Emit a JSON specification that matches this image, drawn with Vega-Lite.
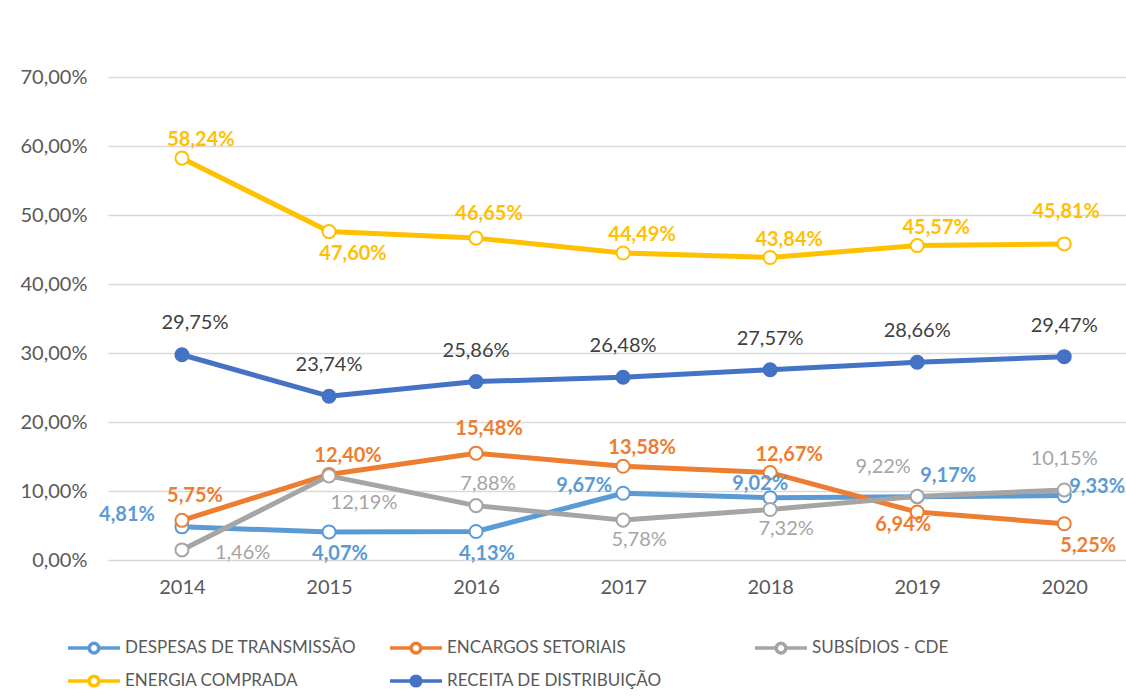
{
  "$schema": "https://vega.github.io/schema/vega-lite/v6.json",
  "width": 1018,
  "height": 552,
  "autosize": {"type": "none"},
  "padding": {"left": 108, "top": 8, "right": 0, "bottom": 139},
  "background": "white",
  "config": {
    "view": {"stroke": null},
    "font": "Lato",
    "text": {"font": "Lato", "fontSize": 20, "baseline": "middle", "align": "center"}
  },
  "resolve": {"scale": {"stroke": "independent"}},
  "data": {
    "values": [
      {"series": "DESPESAS DE TRANSMISSÃO", "year": 2014, "value": 0.0481},
      {"series": "DESPESAS DE TRANSMISSÃO", "year": 2015, "value": 0.0407},
      {"series": "DESPESAS DE TRANSMISSÃO", "year": 2016, "value": 0.0413},
      {"series": "DESPESAS DE TRANSMISSÃO", "year": 2017, "value": 0.0967},
      {"series": "DESPESAS DE TRANSMISSÃO", "year": 2018, "value": 0.0902},
      {"series": "DESPESAS DE TRANSMISSÃO", "year": 2019, "value": 0.0917},
      {"series": "DESPESAS DE TRANSMISSÃO", "year": 2020, "value": 0.0933},
      {"series": "ENCARGOS SETORIAIS", "year": 2014, "value": 0.0575},
      {"series": "ENCARGOS SETORIAIS", "year": 2015, "value": 0.1240},
      {"series": "ENCARGOS SETORIAIS", "year": 2016, "value": 0.1548},
      {"series": "ENCARGOS SETORIAIS", "year": 2017, "value": 0.1358},
      {"series": "ENCARGOS SETORIAIS", "year": 2018, "value": 0.1267},
      {"series": "ENCARGOS SETORIAIS", "year": 2019, "value": 0.0694},
      {"series": "ENCARGOS SETORIAIS", "year": 2020, "value": 0.0525},
      {"series": "SUBSÍDIOS - CDE", "year": 2014, "value": 0.0146},
      {"series": "SUBSÍDIOS - CDE", "year": 2015, "value": 0.1219},
      {"series": "SUBSÍDIOS - CDE", "year": 2016, "value": 0.0788},
      {"series": "SUBSÍDIOS - CDE", "year": 2017, "value": 0.0578},
      {"series": "SUBSÍDIOS - CDE", "year": 2018, "value": 0.0732},
      {"series": "SUBSÍDIOS - CDE", "year": 2019, "value": 0.0922},
      {"series": "SUBSÍDIOS - CDE", "year": 2020, "value": 0.1015},
      {"series": "ENERGIA COMPRADA", "year": 2014, "value": 0.5824},
      {"series": "ENERGIA COMPRADA", "year": 2015, "value": 0.4760},
      {"series": "ENERGIA COMPRADA", "year": 2016, "value": 0.4665},
      {"series": "ENERGIA COMPRADA", "year": 2017, "value": 0.4449},
      {"series": "ENERGIA COMPRADA", "year": 2018, "value": 0.4384},
      {"series": "ENERGIA COMPRADA", "year": 2019, "value": 0.4557},
      {"series": "ENERGIA COMPRADA", "year": 2020, "value": 0.4581},
      {"series": "RECEITA DE DISTRIBUIÇÃO", "year": 2014, "value": 0.2975},
      {"series": "RECEITA DE DISTRIBUIÇÃO", "year": 2015, "value": 0.2374},
      {"series": "RECEITA DE DISTRIBUIÇÃO", "year": 2016, "value": 0.2586},
      {"series": "RECEITA DE DISTRIBUIÇÃO", "year": 2017, "value": 0.2648},
      {"series": "RECEITA DE DISTRIBUIÇÃO", "year": 2018, "value": 0.2757},
      {"series": "RECEITA DE DISTRIBUIÇÃO", "year": 2019, "value": 0.2866},
      {"series": "RECEITA DE DISTRIBUIÇÃO", "year": 2020, "value": 0.2947}
    ]
  },
  "transform": [
    {"calculate": "replace(format(datum.value, '.2%'), '.', ',')", "as": "lab"},
    {"calculate": "substring(datum.series, 0, 3) + datum.year", "as": "k"}
  ],
  "encoding": {
    "x": {
      "field": "year", "type": "quantitative",
      "scale": {"domain": [2013.497, 2020.42], "nice": false, "zero": false},
      "axis": {
        "values": [2014, 2015, 2016, 2017, 2018, 2019, 2020], "format": "d", "title": null,
        "grid": false, "domain": false, "ticks": false,
        "labelFontSize": 20, "labelColor": "#595959", "labelFont": "Lato", "labelPadding": 17
      }
    },
    "y": {
      "field": "value", "type": "quantitative",
      "scale": {"domain": [0, 0.8], "nice": false},
      "axis": {
        "values": [0, 0.1, 0.2, 0.3, 0.4, 0.5, 0.6, 0.7],
        "labelExpr": "replace(format(datum.value, '.2%'), '.', ',')",
        "title": null, "grid": true, "gridColor": "#D9D9D9", "gridWidth": 1.3,
        "domain": false, "ticks": false,
        "labelFontSize": 20, "labelColor": "#595959", "labelFont": "Lato", "labelPadding": 21
      }
    }
  },
  "layer": [
    {
      "mark": {"type": "line", "strokeWidth": 5, "strokeJoin": "round", "strokeCap": "round"},
      "encoding": {
        "stroke": {
          "field": "series", "type": "nominal",
          "scale": {
            "domain": ["DESPESAS DE TRANSMISSÃO", "ENCARGOS SETORIAIS", "SUBSÍDIOS - CDE", "ENERGIA COMPRADA", "RECEITA DE DISTRIBUIÇÃO"],
            "range": ["#5B9BD5", "#ED7D31", "#A5A5A5", "#FFC000", "#4472C4"]
          },
          "legend": {
            "title": null, "orient": "none", "legendX": -40, "legendY": 630,
            "direction": "horizontal", "columns": 3, "columnPadding": 26, "rowPadding": 9,
            "symbolType": "M-3.25,0H-0.6M0.6,0H3.25M-0.6,0A0.6,0.6,0,1,0,0.6,0A0.6,0.6,0,1,0,-0.6,0Z",
            "symbolSize": 256, "symbolStrokeWidth": 3.5, "symbolOffset": 16, "labelOffset": 21,
            "symbolFillColor": "white",
            "labelFontSize": 17, "labelColor": "#595959", "labelFont": "Lato", "labelLimit": 500,
            "labelExpr": "datum.label === 'RECEITA DE DISTRIBUIÇÃO' ? datum.label + '\u2800\u2800\u2800\u2800\u2800' : datum.label",
            "encode": {
              "symbols": {
                "update": {
                  "fill": {"signal": "datum.value === 'RECEITA DE DISTRIBUIÇÃO' ? '#4472C4' : 'white'"},
                  "opacity": {"value": 1}
                }
              }
            }
          }
        }
      }
    },
    {
      "mark": {"type": "point", "shape": "circle", "filled": true, "size": 170, "strokeWidth": 2, "opacity": 1},
      "encoding": {
        "stroke": {
          "field": "series", "type": "nominal",
          "scale": {
            "domain": ["DESPESAS DE TRANSMISSÃO", "ENCARGOS SETORIAIS", "SUBSÍDIOS - CDE", "ENERGIA COMPRADA", "RECEITA DE DISTRIBUIÇÃO"],
            "range": ["#5B9BD5", "#ED7D31", "#A5A5A5", "#FFC000", "#4472C4"]
          },
          "legend": null
        },
        "fill": {
          "condition": {"test": "datum.series === 'RECEITA DE DISTRIBUIÇÃO'", "value": "#4472C4"},
          "value": "white"
        }
      }
    },
    {
      "encoding": {
        "text": {"field": "lab"},
        "fill": {
          "field": "series", "type": "nominal",
          "scale": {
            "domain": ["DESPESAS DE TRANSMISSÃO", "ENCARGOS SETORIAIS", "SUBSÍDIOS - CDE", "ENERGIA COMPRADA", "RECEITA DE DISTRIBUIÇÃO"],
            "range": ["#5B9BD5", "#ED7D31", "#A5A5A5", "#FFC000", "#404040"]
          },
          "legend": null
        }
      },
      "layer": [
        {"transform": [{"filter": {"field": "k", "oneOf": ["ENE2014", "ENE2017", "ENE2018", "ENE2019", "ENC2015", "ENC2017", "ENC2018"]}}],
         "mark": {"type": "text", "fontWeight": "bold", "dx": 19, "dy": -18}},
        {"transform": [{"filter": {"field": "k", "oneOf": ["ENE2016", "ENC2016", "ENC2014"]}}],
         "mark": {"type": "text", "fontWeight": "bold", "dx": 13, "dy": -24}},
        {"transform": [{"filter": {"field": "k", "oneOf": ["ENE2020"]}}],
         "mark": {"type": "text", "fontWeight": "bold", "dx": 2, "dy": -32}},
        {"transform": [{"filter": {"field": "k", "oneOf": ["ENE2015", "ENC2020"]}}],
         "mark": {"type": "text", "fontWeight": "bold", "dx": 24, "dy": 22}},
        {"transform": [{"filter": {"field": "k", "oneOf": ["DES2015", "DES2016"]}}],
         "mark": {"type": "text", "fontWeight": "bold", "dx": 11, "dy": 22}},
        {"transform": [{"filter": {"field": "k", "oneOf": ["ENC2019"]}}],
         "mark": {"type": "text", "fontWeight": "bold", "dx": -14, "dy": 13}},
        {"transform": [{"filter": {"field": "k", "oneOf": ["DES2014"]}}],
         "mark": {"type": "text", "fontWeight": "bold", "dx": -55, "dy": -12}},
        {"transform": [{"filter": {"field": "k", "oneOf": ["DES2017"]}}],
         "mark": {"type": "text", "fontWeight": "bold", "dx": -39, "dy": -7}},
        {"transform": [{"filter": {"field": "k", "oneOf": ["DES2018"]}}],
         "mark": {"type": "text", "fontWeight": "bold", "dx": -10, "dy": -14}},
        {"transform": [{"filter": {"field": "k", "oneOf": ["DES2019"]}}],
         "mark": {"type": "text", "fontWeight": "bold", "dx": 31, "dy": -21}},
        {"transform": [{"filter": {"field": "k", "oneOf": ["DES2020"]}}],
         "mark": {"type": "text", "fontWeight": "bold", "align": "left", "dx": 5, "dy": -9}},
        {"transform": [{"filter": {"field": "k", "oneOf": ["REC2015", "REC2016", "REC2017", "REC2018", "REC2019", "REC2020", "SUB2020"]}}],
         "mark": {"type": "text", "fontWeight": "normal", "dx": 0, "dy": -31}},
        {"transform": [{"filter": {"field": "k", "oneOf": ["REC2014"]}}],
         "mark": {"type": "text", "fontWeight": "normal", "dx": 13, "dy": -32}},
        {"transform": [{"filter": {"field": "k", "oneOf": ["SUB2014"]}}],
         "mark": {"type": "text", "fontWeight": "normal", "align": "left", "dx": 33, "dy": 3}},
        {"transform": [{"filter": {"field": "k", "oneOf": ["SUB2015"]}}],
         "mark": {"type": "text", "fontWeight": "normal", "dx": 35, "dy": 27}},
        {"transform": [{"filter": {"field": "k", "oneOf": ["SUB2016"]}}],
         "mark": {"type": "text", "fontWeight": "normal", "dx": 12, "dy": -22}},
        {"transform": [{"filter": {"field": "k", "oneOf": ["SUB2017", "SUB2018"]}}],
         "mark": {"type": "text", "fontWeight": "normal", "dx": 16, "dy": 20}},
        {"transform": [{"filter": {"field": "k", "oneOf": ["SUB2019"]}}],
         "mark": {"type": "text", "fontWeight": "normal", "dx": -34, "dy": -29}}
      ]
    }
  ]
}
